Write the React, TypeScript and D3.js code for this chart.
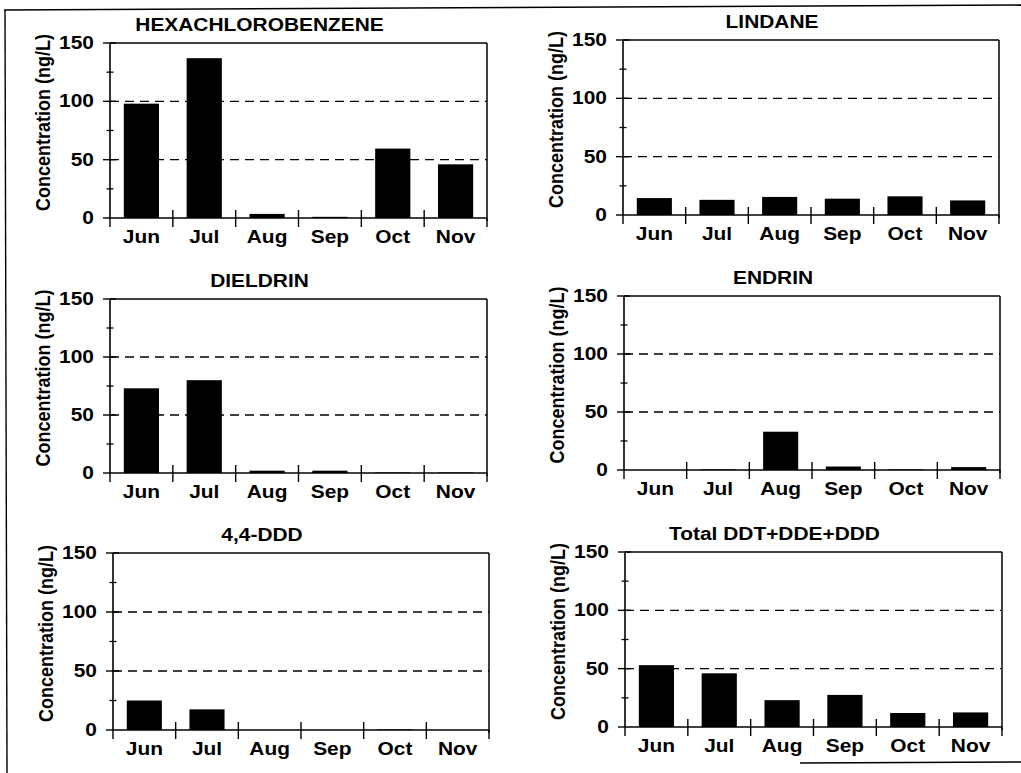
import React from "react";
import * as d3 from "d3";

// Sampling months (x categories)
const months = ["Jun", "Jul", "Aug", "Sep", "Oct", "Nov"];

// Concentrations in ng/L, one series per compound
const hexachlorobenzene = [98, 137, 3.5, 1, 59.5, 46];
const lindane = [14.5, 13, 15.5, 14, 16, 12.5];
const dieldrin = [73, 80, 2, 2, 0.5, 0.5];
const endrin = [0, 0.5, 33, 3, 0.5, 2.5];
const ddd44 = [25, 17.5, 0, 0, 0.5, 0];
const totalDdt = [53, 46, 23, 27.5, 12, 12.5];

const panelTitles = [
  "HEXACHLOROBENZENE",
  "LINDANE",
  "DIELDRIN",
  "ENDRIN",
  "4,4-DDD",
  "Total DDT+DDE+DDD",
];
const panelSeries = [hexachlorobenzene, lindane, dieldrin, endrin, ddd44, totalDdt];

// Axis ticks
const yMajorTicks = [0, 50, 100, 150];
const yMinorTicks = [25, 75, 125];
const yGridLines = [50, 100];
const yDomain = [0, 150];
const yAxisTitle = "Concentration (ng/L)";

// Plot-area frames of the six panels (layout)
const frames = [
  { x: 110, y: 43, w: 377, h: 175 },
  { x: 623, y: 40, w: 376, h: 175 },
  { x: 110, y: 299, w: 377, h: 174 },
  { x: 624, y: 296, w: 376, h: 174 },
  { x: 113, y: 553, w: 376, h: 177 },
  { x: 625, y: 552, w: 377, h: 175 },
];

const FONT = "'Liberation Sans', Arial, Helvetica, sans-serif";
const FS = 19;
const FS_AXIS_TITLE = 18;
const SX = 1.1; // horizontal glyph widening

function SText({ x, y, anchor = "middle", children, rotate = false, size = FS }: any) {
  const t = rotate
    ? `translate(${x},${y}) rotate(-90) scale(1,${SX})`
    : `translate(${x},${y}) scale(${SX},1)`;
  return (
    <text
      transform={t}
      textAnchor={anchor}
      fontFamily={FONT}
      fontSize={size}
      fontWeight="bold"
      fill="#000"
    >
      {children}
    </text>
  );
}

function Panel({ frame, title, values }: any) {
  const { x, y, w, h } = frame;
  const xScale = d3
    .scaleBand<string>()
    .domain(months)
    .range([x, x + w])
    .paddingInner(0.44)
    .paddingOuter(0.22);
  const yScale = d3.scaleLinear().domain(yDomain).range([y + h, y]);
  const step = xScale.step();
  const boundaries = d3.range(months.length + 1).map((i) => x + i * step);
  const y0 = yScale(0);

  return (
    <g>
      {/* dashed reference lines */}
      {yGridLines.map((v) => (
        <line
          key={"g" + v}
          x1={x}
          x2={x + w}
          y1={yScale(v)}
          y2={yScale(v)}
          stroke="#000"
          strokeWidth={1.3}
          strokeDasharray="9,6"
        />
      ))}
      {/* bars */}
      {values.map((v: number, i: number) => (
        <rect
          key={"b" + i}
          x={xScale(months[i])}
          y={yScale(v)}
          width={xScale.bandwidth()}
          height={y0 - yScale(v)}
          fill="#000"
        />
      ))}
      {/* frame */}
      <line x1={x} x2={x + w} y1={y} y2={y} stroke="#000" strokeWidth={1.5} />
      <line x1={x + w} x2={x + w} y1={y} y2={y0 + 3} stroke="#000" strokeWidth={1.5} />
      <line x1={x} x2={x} y1={y} y2={y0} stroke="#000" strokeWidth={1.6} />
      <line x1={x} x2={x + w} y1={y0} y2={y0} stroke="#000" strokeWidth={1.6} />
      {/* y ticks */}
      {yMajorTicks.map((v) => (
        <line
          key={"ym" + v}
          x1={x - 7}
          x2={v === 0 ? x : x + 6}
          y1={yScale(v)}
          y2={yScale(v)}
          stroke="#000"
          strokeWidth={1.4}
        />
      ))}
      {yMinorTicks.map((v) => (
        <line
          key={"yn" + v}
          x1={x - 3.5}
          x2={x + 3.5}
          y1={yScale(v)}
          y2={yScale(v)}
          stroke="#000"
          strokeWidth={1.3}
        />
      ))}
      {/* x category separators */}
      {boundaries.map((bx, i) => (
        <line
          key={"xb" + i}
          x1={bx}
          x2={bx}
          y1={i === 0 || i === months.length ? y0 : y0 - 8}
          y2={y0 + 9}
          stroke="#000"
          strokeWidth={1.4}
        />
      ))}
      {/* y tick labels */}
      {yMajorTicks.map((v) => (
        <SText key={"yl" + v} x={x - 16} y={yScale(v) + 6} anchor="end">
          {String(v)}
        </SText>
      ))}
      {/* x tick labels */}
      {months.map((m) => (
        <SText key={"xl" + m} x={(xScale(m) as number) + xScale.bandwidth() / 2} y={y0 + 25}>
          {m}
        </SText>
      ))}
      {/* axis title */}
      <SText x={x - 60} y={y + h / 2 - 8} rotate size={FS_AXIS_TITLE}>
        {yAxisTitle}
      </SText>
      {/* panel title */}
      <SText x={x + w / 2 - 39} y={y - 12}>
        {title}
      </SText>
    </g>
  );
}

export default function App() {
  return (
    <svg
      width={1021}
      height={773}
      style={{ position: "absolute", left: 0, top: 0, background: "#fff" }}
    >
      <rect x={0} y={0} width={1021} height={773} fill="#fff" />
      {/* outer figure border */}
      <line x1={4} y1={10} x2={1021} y2={5} stroke="#000" strokeWidth={1.6} />
      <line x1={5} y1={10} x2={7} y2={773} stroke="#000" strokeWidth={1.4} />
      <line x1={800} y1={763} x2={1021} y2={762} stroke="#000" strokeWidth={1.6} />
      {frames.map((f, i) => (
        <Panel key={i} frame={f} title={panelTitles[i]} values={panelSeries[i]} />
      ))}
    </svg>
  );
}
